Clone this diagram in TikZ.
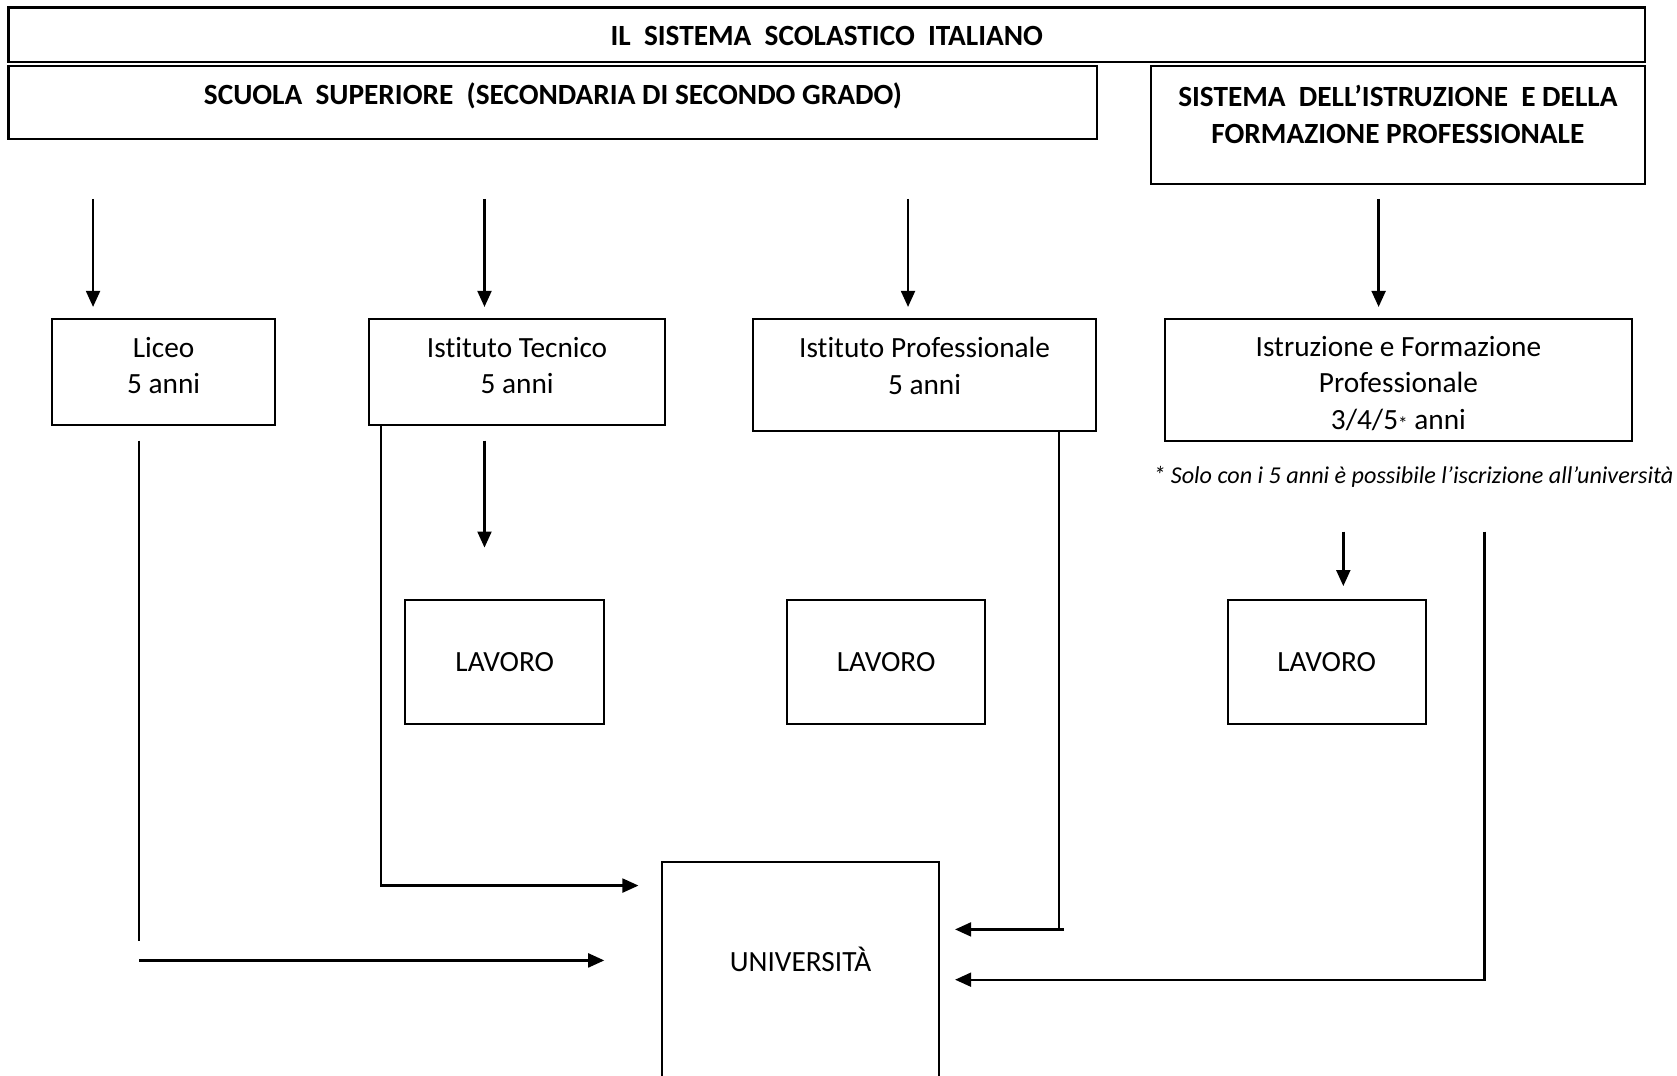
\documentclass[tikz,border=0pt]{standalone}
\usepackage{fontspec}
\setmainfont[Ligatures=NoCommon]{Carlito}
\usetikzlibrary{arrows.meta}
\tikzset{
  box/.style={draw=black, line width=1pt, inner sep=0pt},
  txt/.style={font=\fontsize{13.7}{17}\selectfont, align=center, inner sep=0pt},
  txtb/.style={font=\fontsize{13.7}{17}\selectfont\bfseries, align=center, inner sep=0pt},
  note/.style={font=\fontsize{11.3}{14}\selectfont\itshape, inner sep=0pt},
  conn/.style={draw=black, line width=1.1pt},
  arr/.style={conn, -{Triangle[length=7.5pt, width=6.5pt]}},
}
\begin{document}
\begin{tikzpicture}[x=0.5pt, y=-0.5pt]
\clip (0,0) rectangle (1568,1006);
\fill[white] (0,0) rectangle (1568,1006);
% header boxes
\node[box, minimum width=765pt, minimum height=25.5pt] (title) at (773,32.5) {};
\node[txtb] (titleT) at (773,34) {IL\ \ SISTEMA\ \ SCOLASTICO\ \ ITALIANO};
\node[box, minimum width=509pt, minimum height=34pt] (scuola) at (517,96) {};
\node[txtb] (scuolaT) at (517,90) {SCUOLA\ \ SUPERIORE\ \ (SECONDARIA DI SECONDO GRADO)};
\node[box, minimum width=231pt, minimum height=55pt] (sistema) at (1307,117) {};
\node[txtb] (sistemaT) at (1307,107) {SISTEMA\ \ DELL’ISTRUZIONE\ \ E DELLA\\FORMAZIONE PROFESSIONALE};
% school boxes
\node[box, minimum width=104pt, minimum height=49.5pt] (liceo) at (153,347.5) {};
\node[txt] (liceoT) at (153,342) {Liceo\\5 anni};
\node[box, minimum width=138.5pt, minimum height=49.5pt] (tecnico) at (483.5,347.5) {};
\node[txt] (tecnicoT) at (483.5,342) {Istituto Tecnico\\5 anni};
\node[box, minimum width=160.5pt, minimum height=52.5pt] (prof) at (864.5,350.5) {};
\node[txt] (profT) at (864.5,342) {Istituto Professionale\\5 anni};
\node[box, minimum width=218.5pt, minimum height=57pt] (istr) at (1307.5,355) {};
\node[txt] (istrT) at (1307.5,358.5) {Istruzione e Formazione\\Professionale\\3/4/5{\fontsize{9}{9}\selectfont\raisebox{-0.6pt}{*}} anni};
\node[note, anchor=east] (noteT) at (1565,446) {*\ Solo con i 5 anni è possibile l’iscrizione all’università};
% lavoro boxes
\node[box, minimum width=93pt, minimum height=58pt] (lav1) at (472,619) {};
\node[txt] at (lav1.center) {LAVORO};
\node[box, minimum width=92.5pt, minimum height=58pt] (lav2) at (828.5,619) {};
\node[txt] at (lav2.center) {LAVORO};
\node[box, minimum width=92.5pt, minimum height=58pt] (lav3) at (1240.5,619) {};
\node[txt] at (lav3.center) {LAVORO};
% university
\node[box, minimum width=129.5pt, minimum height=140pt] (univ) at (748.5,946) {};
\node[txt] (univT) at (748.5,897) {UNIVERSITÀ};
% connector points
\coordinate (s1) at (87,186);   \coordinate (e1) at (87,287);
\coordinate (s2) at (453,186);  \coordinate (e2) at (453,287);
\coordinate (s3) at (849,186);  \coordinate (e3) at (849,287);
\coordinate (s4) at (1289,186); \coordinate (e4) at (1289,287);
\coordinate (s5) at (453,412);  \coordinate (e5) at (453,512);
\coordinate (s6) at (1256,497); \coordinate (e6) at (1256,548);
\coordinate (lA) at (130,412);  \coordinate (lB) at (130,880);
\coordinate (lC) at (130,898);  \coordinate (lD) at (565,898);
\coordinate (tA) at (356,397);  \coordinate (tB) at (356,828); \coordinate (tC) at (597,828);
\coordinate (pA) at (990,403);  \coordinate (pB) at (990,869);
\coordinate (pC) at (995,869);  \coordinate (pD) at (893,869);
\coordinate (iA) at (1388,497); \coordinate (iB) at (1388,916); \coordinate (iC) at (893,916);
% connectors
\draw[arr] (s1) -- (e1);
\draw[arr] (s2) -- (e2);
\draw[arr] (s3) -- (e3);
\draw[arr] (s4) -- (e4);
\draw[arr] (s5) -- (e5);
\draw[arr] (s6) -- (e6);
\draw[conn] (lA) -- (lB);
\draw[arr] (lC) -- (lD);
\draw[arr] (tA) -- (tB) -- (tC);
\draw[conn] (pA) -- (pB);
\draw[arr] (pC) -- (pD);
\draw[arr] (iA) -- (iB) -- (iC);
\end{tikzpicture}
\end{document}
